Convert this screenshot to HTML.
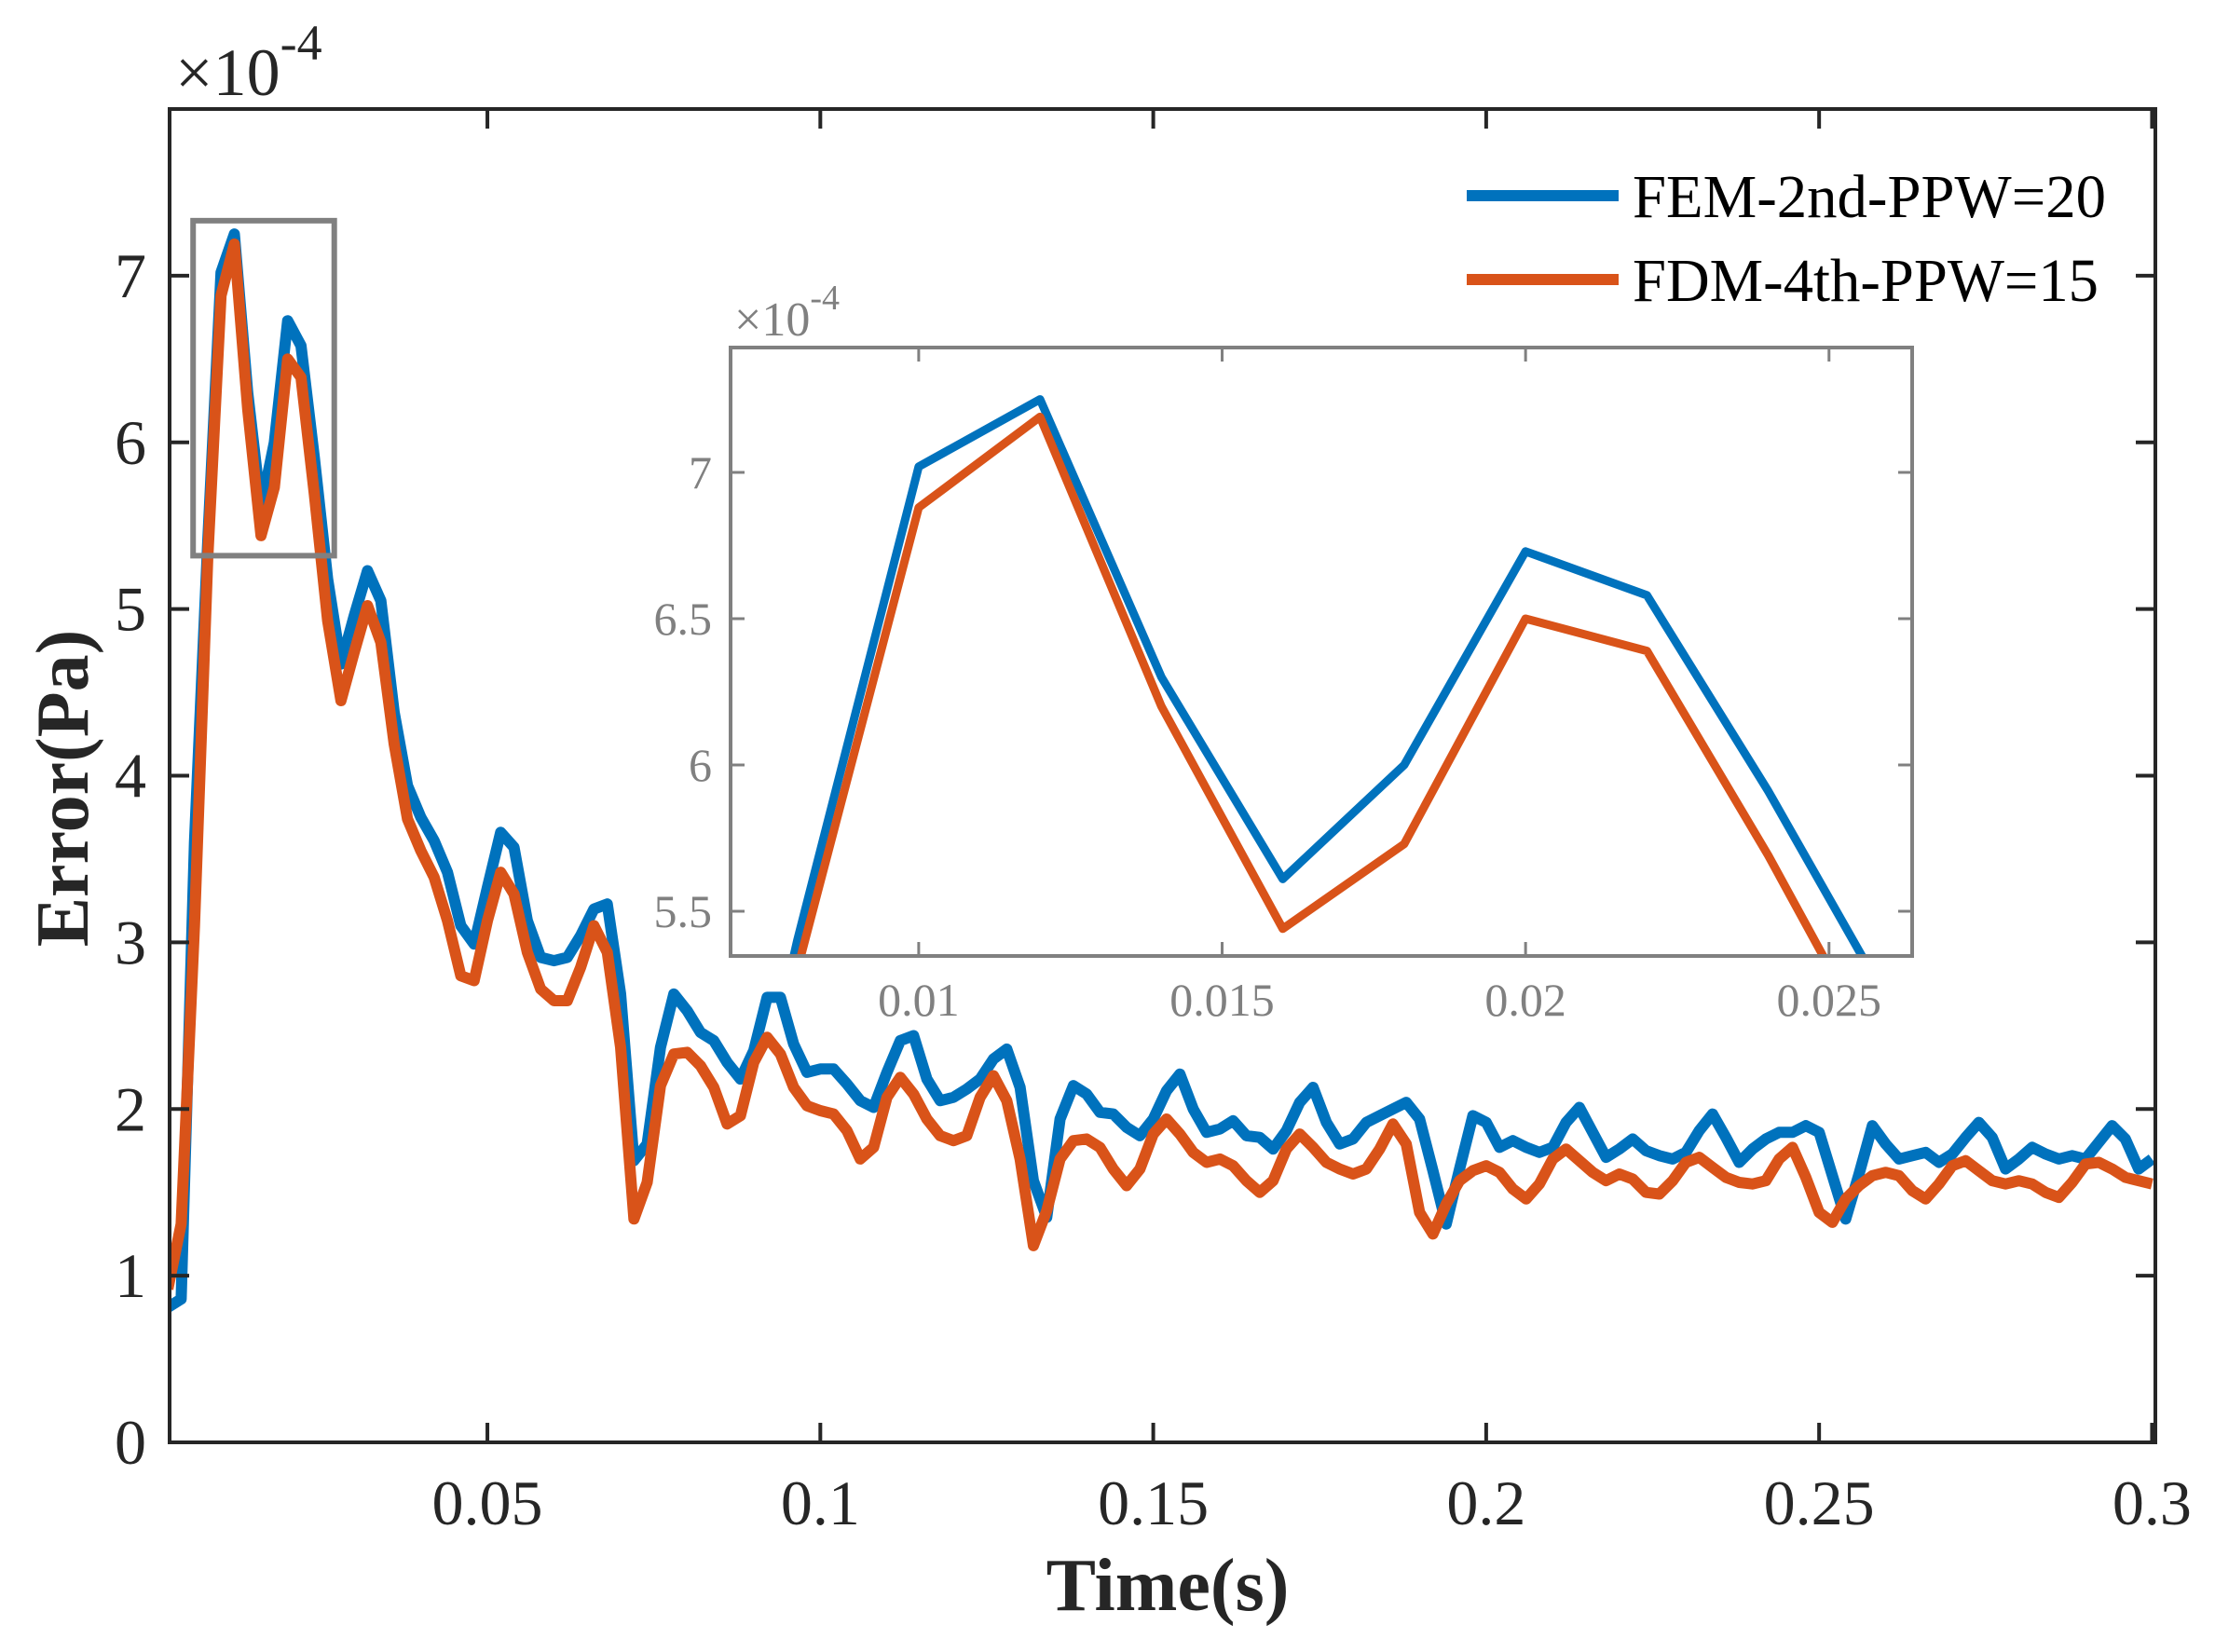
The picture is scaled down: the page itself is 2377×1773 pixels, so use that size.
<!DOCTYPE html>
<html><head><meta charset="utf-8">
<style>
html,body{margin:0;padding:0;background:#fff;overflow:hidden;width:2377px;height:1773px;}
svg{display:block;font-family:"Liberation Serif",serif;}
</style></head>
<body>
<svg id="chart" width="2377" height="1773" viewBox="0 0 2377 1773" xmlns="http://www.w3.org/2000/svg">
<defs>
<clipPath id="mainClip"><rect x="182" y="117" width="2131" height="1431"/></clipPath>
<clipPath id="insetClip"><rect x="784" y="373" width="1268" height="653"/></clipPath>
</defs>
<rect x="0" y="0" width="2377" height="1773" fill="#fff"/>
<g id="main"></g>
<g id="inset"></g>
</svg>
<script>
const times = [];
for (let k = 1; k <= 150; k++) times.push(+(0.002 * k).toFixed(3));
const femValues = [0.81,0.86,3.6,5.4,7.02,7.25,6.3,5.61,6.0,6.73,6.58,5.91,5.18,4.67,4.96,5.23,5.05,4.38,3.94,3.75,
3.61,3.42,3.10,2.99,3.33,3.66,3.57,3.13,2.91,2.89,2.91,3.04,3.20,3.23,2.69,1.69,1.79,2.37,2.69,2.59,
2.46,2.41,2.28,2.18,2.35,2.67,2.67,2.39,2.22,2.24,2.24,2.15,2.05,2.01,2.22,2.41,2.44,2.18,2.05,2.07,
2.12,2.18,2.30,2.36,2.13,1.57,1.35,1.94,2.14,2.09,1.98,1.97,1.89,1.84,1.94,2.11,2.21,2.00,1.86,1.88,
1.93,1.84,1.83,1.76,1.87,2.04,2.13,1.92,1.79,1.82,1.92,1.96,2.00,2.04,1.94,1.63,1.31,1.64,1.96,1.92,
1.77,1.81,1.77,1.74,1.77,1.92,2.01,1.86,1.71,1.76,1.82,1.75,1.72,1.70,1.74,1.87,1.97,1.83,1.68,1.76,
1.82,1.86,1.86,1.90,1.86,1.60,1.34,1.61,1.90,1.79,1.70,1.72,1.74,1.68,1.73,1.83,1.92,1.83,1.64,1.70,
1.77,1.73,1.70,1.72,1.70,1.80,1.90,1.82,1.64,1.70];
const fdmValues = [0.92,1.31,3.1,5.3,6.88,7.19,6.2,5.44,5.73,6.5,6.39,5.69,4.93,4.45,4.74,5.02,4.80,4.19,3.74,3.55,
3.39,3.13,2.80,2.77,3.13,3.42,3.29,2.94,2.72,2.65,2.65,2.85,3.10,2.94,2.37,1.34,1.56,2.14,2.33,2.34,
2.26,2.13,1.91,1.96,2.28,2.43,2.33,2.13,2.02,1.99,1.97,1.87,1.70,1.77,2.07,2.19,2.09,1.94,1.84,1.81,
1.84,2.07,2.20,2.05,1.70,1.18,1.39,1.70,1.81,1.82,1.77,1.64,1.54,1.64,1.85,1.94,1.85,1.74,1.68,1.70,
1.66,1.57,1.50,1.57,1.76,1.85,1.77,1.68,1.64,1.61,1.64,1.76,1.91,1.79,1.38,1.25,1.43,1.57,1.63,1.66,
1.62,1.52,1.46,1.55,1.70,1.76,1.69,1.62,1.57,1.61,1.58,1.50,1.49,1.57,1.68,1.71,1.65,1.59,1.56,1.55,
1.57,1.70,1.77,1.59,1.38,1.32,1.46,1.54,1.60,1.62,1.60,1.51,1.46,1.55,1.66,1.69,1.63,1.57,1.55,1.57,
1.55,1.50,1.47,1.56,1.67,1.68,1.64,1.59,1.57,1.55];
const xTicks = [0.05,0.1,0.15,0.2,0.25,0.3];
const xTickLabels = ["0.05","0.1","0.15","0.2","0.25","0.3"];
const yTicks = [0,1,2,3,4,5,6,7];
const yTickLabels = ["0","1","2","3","4","5","6","7"];
const insetXTicks = [0.01,0.015,0.02,0.025];
const insetXTickLabels = ["0.01","0.015","0.02","0.025"];
const insetYTicks = [5.5,6,6.5,7];
const insetYTickLabels = ["5.5","6","6.5","7"];
const zoomRegion = [0.0058, 0.027, 5.32, 7.33];

const NS = "http://www.w3.org/2000/svg";
function mk(parent, tag, attrs, text) {
  const e = document.createElementNS(NS, tag);
  for (const k in attrs) e.setAttribute(k, attrs[k]);
  if (text !== undefined) e.textContent = text;
  parent.appendChild(e);
  return e;
}
const DARK = "#262626", BLUE = "#0072BD", ORANGE = "#D95319", GRAY = "#808080";

const L = 182, R = 2313, T = 117, B = 1548;
const xMin = 0.00227, xMax = 0.3005, yMin = 0, yMax = 8;
const xs = t => L + (t - xMin) / (xMax - xMin) * (R - L);
const ys = v => B - (v - yMin) / (yMax - yMin) * (B - T);

const main = document.getElementById("main");
function linePath(vals, sx, sy) {
  return vals.map((v, i) => (i ? "L" : "M") + sx(times[i]).toFixed(1) + "," + sy(v).toFixed(1)).join(" ");
}
const gSeries = mk(main, "g", {"clip-path": "url(#mainClip)"});


const pBlue = mk(gSeries, "path", {d: linePath(femValues, xs, ys), fill: "none", stroke: BLUE, "stroke-width": 12, "stroke-linejoin": "round"});


const pOr = mk(gSeries, "path", {d: linePath(fdmValues, xs, ys), fill: "none", stroke: ORANGE, "stroke-width": 12, "stroke-linejoin": "round"});



const box = mk(main, "rect", {x: L, y: T, width: R - L, height: B - T, fill: "none", stroke: DARK, "stroke-width": 4});



xTicks.forEach((t, i) => {
  const x = xs(t);
  const tk = mk(main, "path", {d: `M${x},${B}V${B-21}M${x},${T}V${T+21}`, stroke: DARK, "stroke-width": 4});
  
  
  const lb = mk(main, "text", {x: x, y: 1636, "font-size": 68, "text-anchor": "middle", fill: DARK}, xTickLabels[i]);
  
  
});
yTicks.forEach((v, i) => {
  const y = ys(v);
  const tk = mk(main, "path", {d: `M${L},${y}H${L+21}M${R},${y}H${R-21}`, stroke: DARK, "stroke-width": 4});
  
  
  const lb = mk(main, "text", {x: 157, y: y + 23, "font-size": 68, "text-anchor": "end", fill: DARK}, yTickLabels[i]);
  
  
});
const exp = mk(main, "text", {x: 188, y: 102, "font-size": 72, fill: DARK});


exp.innerHTML = '×10<tspan dy="-38" font-size="54">-4</tspan>';

const xt = mk(main, "text", {x: 1253, y: 1728, "font-size": 80, "font-weight": "bold", "text-anchor": "middle", fill: DARK}, "Time(s)");


const yt = mk(main, "text", {x: 0, y: 0, "font-size": 80, "font-weight": "bold", "text-anchor": "middle", fill: DARK, transform: "translate(94,846) rotate(-90)"}, "Error(Pa)");



const zr = mk(main, "rect", {x: xs(zoomRegion[0]), y: ys(zoomRegion[3]), width: xs(zoomRegion[1]) - xs(zoomRegion[0]), height: ys(zoomRegion[2]) - ys(zoomRegion[3]), fill: "none", stroke: GRAY, "stroke-width": 6});



const legendItems = [["FEM-2nd-PPW=20", BLUE, 210], ["FDM-4th-PPW=15", ORANGE, 300]];
legendItems.forEach(([name, col, y], i) => {
  const g = mk(main, "g", {});
  
  
  const ln = mk(g, "line", {x1: 1574, x2: 1737, y1: y, y2: y, stroke: col, "stroke-width": 12});
  
  
  const tx = mk(g, "text", {x: 1752, y: y + 23, "font-size": 66, fill: "#000", textLength: i ? 500 : 508, lengthAdjust: "spacingAndGlyphs"}, name);
  
  
});

const iL = 784, iR = 2052, iT = 373, iB = 1026;
const ixMin = 0.0069, ixMax = 0.02637, iyMin = 5.347, iyMax = 7.427;
const ixs = t => iL + (t - ixMin) / (ixMax - ixMin) * (iR - iL);
const iys = v => iB - (v - iyMin) / (iyMax - iyMin) * (iB - iT);
const inset = document.getElementById("inset");
const ibg = mk(inset, "rect", {x: iL, y: iT, width: iR - iL, height: iB - iT, fill: "#fff"});


const ig = mk(inset, "g", {"clip-path": "url(#insetClip)"});


const ib = mk(ig, "path", {d: linePath(femValues, ixs, iys), fill: "none", stroke: BLUE, "stroke-width": 9, "stroke-linejoin": "round"});


const io = mk(ig, "path", {d: linePath(fdmValues, ixs, iys), fill: "none", stroke: ORANGE, "stroke-width": 9, "stroke-linejoin": "round"});


const ibox = mk(inset, "rect", {x: iL, y: iT, width: iR - iL, height: iB - iT, fill: "none", stroke: GRAY, "stroke-width": 4});


insetXTicks.forEach((t, i) => {
  const x = ixs(t);
  const tk = mk(inset, "path", {d: `M${x},${iB}V${iB-15}M${x},${iT}V${iT+15}`, stroke: GRAY, "stroke-width": 3});
  
  
  const lb = mk(inset, "text", {x: x, y: 1090, "font-size": 50, "text-anchor": "middle", fill: GRAY}, insetXTickLabels[i]);
  
  
});
insetYTicks.forEach((v, i) => {
  const y = iys(v);
  const tk = mk(inset, "path", {d: `M${iL},${y}H${iL+15}M${iR},${y}H${iR-15}`, stroke: GRAY, "stroke-width": 3});
  
  
  const lb = mk(inset, "text", {x: 764, y: y + 17, "font-size": 50, "text-anchor": "end", fill: GRAY}, insetYTickLabels[i]);
  
  
});
const iexp = mk(inset, "text", {x: 788, y: 360, "font-size": 52, fill: GRAY});


iexp.innerHTML = '×10<tspan dy="-28" font-size="38">-4</tspan>';
</script>
</body></html>
